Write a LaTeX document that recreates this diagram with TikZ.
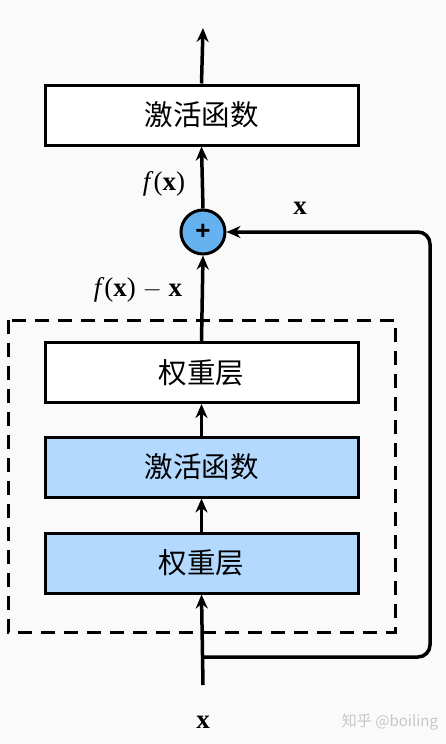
\documentclass[tikz,border=0pt]{standalone}
\usepackage{fontspec}
\setmainfont{Liberation Serif}
\newfontfamily\cjk{Noto Sans CJK SC}
\newfontfamily\plusfont{Liberation Sans}
\usetikzlibrary{arrows.meta}
\definecolor{bg}{RGB}{250,250,250}
\definecolor{boxblue}{RGB}{179,217,255}
\definecolor{circblue}{RGB}{102,178,240}
\tikzset{
  layer/.style={draw=black, line width=3pt, minimum width=313pt, minimum height=60pt, inner sep=0pt, font=\cjk\fontsize{28.5}{31}\selectfont},
  conn/.style={line width=3.5pt, -{Stealth[length=14pt,width=12pt]}},
  lbl/.style={font=\fontsize{27}{30}\selectfont, inner sep=0pt},
}
\begin{document}
\begin{tikzpicture}[x=1pt,y=-1pt]
\fill[bg] (0,0) rectangle (446,744);
\useasboundingbox (0,0) rectangle (446,744);
\node[layer, fill=white] (act2) at (201.5,115) {激活函数};
\node[layer, fill=white] (w2) at (201.5,372.5) {权重层};
\node[layer, fill=boxblue] (act1) at (201.5,467) {激活函数};
\node[layer, fill=boxblue] (w1) at (201.5,563) {权重层};
\node[circle, draw=black, line width=3pt, fill=circblue, minimum size=44pt, inner sep=0pt, font=\plusfont\bfseries\fontsize{26}{26}\selectfont] (plus) at (203,232) {+};
\draw[dashed, line width=3pt, dash pattern=on 14pt off 9pt] (8,320) rectangle (395,632);
\coordinate (top) at (203,28);
\coordinate (in) at (203,685);
\coordinate (split) at (203,657);
\coordinate (rc1) at (430,657);
\coordinate (rc2) at (430,232);
\draw[conn] (act2.north) -- (top);
\draw[conn] (plus.north) -- (act2.south);
\draw[conn] (w2.north) -- (plus.south);
\draw[conn] (act1.north) -- (w2.south);
\draw[conn] (w1.north) -- (act1.south);
\draw[conn] (in) -- (w1.south);
\draw[conn, rounded corners=12pt] (split) -- (rc1) -- (rc2) -- (plus.east);
\node[lbl] (fx) at (164,184) {\textit{f}(\textbf{x})};
\node[lbl] (fxx) at (138,290) {\textit{f}(\textbf{x}) $-$ \textbf{x}};
\node[lbl] (xr) at (300,208) {\textbf{x}};
\node[lbl] (xb) at (203,722) {\textbf{x}};
\node[font=\cjk\fontsize{15}{18}\selectfont, text=black!22, inner sep=0pt] (wm) at (390,722) {知乎 @boiling};
\end{tikzpicture}
\end{document}
